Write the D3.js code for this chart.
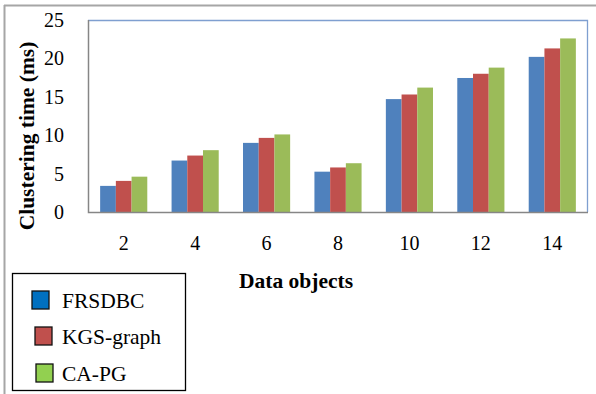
<!DOCTYPE html>
<html><head><meta charset="utf-8">
<script src="https://cdn.jsdelivr.net/npm/d3@7"></script>
<style>body{margin:0;background:#fff}svg{display:block}text{font-family:"Liberation Serif","Times New Roman",serif;fill:#000}</style>
</head><body>
<script>
const categories = ["2","4","6","8","10","12","14"];
const seriesNames = ["FRSDBC","KGS-graph","CA-PG"];
const frsdbc = [3.4, 6.7, 9.0, 5.25, 14.7, 17.45, 20.2];
const kgsGraph = [4.05, 7.35, 9.65, 5.8, 15.3, 18.0, 21.3];
const caPg = [4.6, 8.05, 10.1, 6.35, 16.2, 18.8, 22.6];
const yTicks = [0,5,10,15,20,25];
const barColors = ["#4f81bd","#c0504d","#9bbb59"];
const legendColors = ["#0070c0","#c0504d","#92d050"];

const W=596,H=394;
const svg=d3.select("body").append("svg").attr("width",W).attr("height",H);
// outer frame
svg.append("line").attr("x1",4).attr("x2",W).attr("y1",5.5).attr("y2",5.5).attr("stroke","#a6a6a6").attr("stroke-width",2);
svg.append("line").attr("x1",4.5).attr("x2",4.5).attr("y1",5).attr("y2",H).attr("stroke","#a6a6a6").attr("stroke-width",2);

const L=88,R=588,T=20,B=212;
const x=d3.scaleBand().domain(categories).range([L,R]).paddingInner(0.34).paddingOuter(0.17);
const y=d3.scaleLinear().domain([0,25]).range([B,T]);
const data=[frsdbc,kgsGraph,caPg];
const bw=x.bandwidth()/3;

// plot border top/right blue
svg.append("path").attr("d",`M${L},${T+0.5}H${R-0.5}V${B}`).attr("fill","none").attr("stroke","#7f9fd0").attr("stroke-width",1.3);

data.forEach((vals,si)=>{
  svg.append("g").selectAll("rect").data(vals).join("rect")
    .attr("x",(d,i)=>x(categories[i])+si*bw)
    .attr("width",bw)
    .attr("y",d=>y(d)).attr("height",d=>y(0)-y(d))
    .attr("fill",barColors[si]);
});

// axes lines gray
svg.append("path").attr("d",`M${L+0.5},${T}V${B+0.5}H${R}`).attr("fill","none").attr("stroke","#868686").attr("stroke-width",1.5);

// y tick labels
svg.append("g").selectAll("text").data(yTicks).join("text")
  .attr("x",64).attr("y",d=>y(d)).attr("dy","0.35em").attr("text-anchor","end")
  .style("font-size","20px").text(d=>d);
// x tick labels
svg.append("g").selectAll("text").data(categories).join("text")
  .attr("x",d=>x(d)+x.bandwidth()/2).attr("y",250).attr("text-anchor","middle")
  .style("font-size","20px").text(d=>d);

// titles
svg.append("text").attr("transform","translate(34,136) rotate(-90)").attr("text-anchor","middle")
  .style("font-size","21.5px").style("font-weight","bold").text("Clustering time (ms)");
svg.append("text").attr("x",296).attr("y",288).attr("text-anchor","middle")
  .style("font-size","21.5px").style("font-weight","bold").text("Data objects");

// legend
svg.append("rect").attr("x",12.5).attr("y",273.5).attr("width",173).attr("height",117).attr("fill","#fff").attr("stroke","#000").attr("stroke-width",1.3);
const ly=[291,327,364];
const lx=[32,35,36];
seriesNames.forEach((n,i)=>{
  svg.append("rect").attr("x",lx[i]).attr("y",ly[i]).attr("width",17).attr("height",18).attr("fill",legendColors[i]).attr("stroke","#111").attr("stroke-width",1.3);
  svg.append("text").attr("x",62).attr("y",ly[i]+9).attr("dy","0.35em").style("font-size","21.5px").text(n);
});
</script>
</body></html>
